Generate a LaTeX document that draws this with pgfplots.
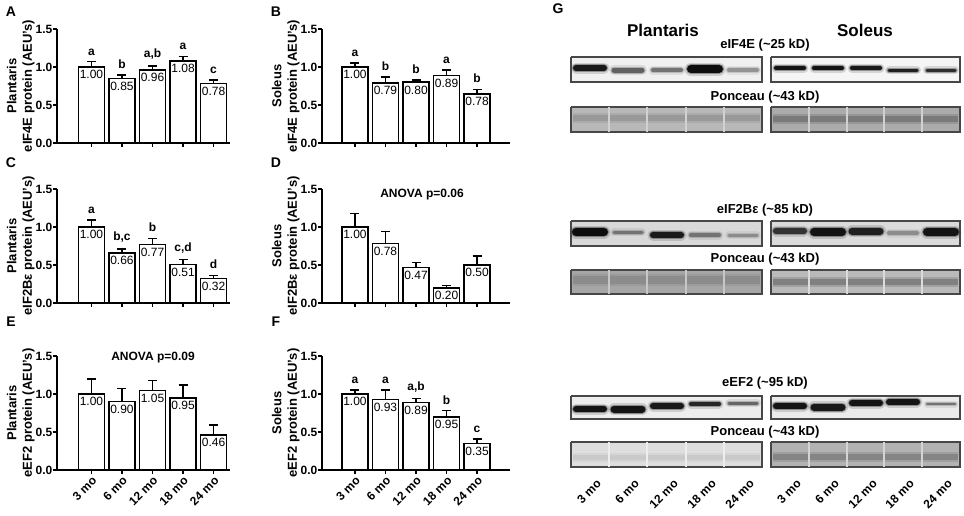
\documentclass[border=0pt]{standalone}
\usepackage{fontspec}
\setmainfont{Liberation Sans}
\usepackage{pgfplots}
\pgfplotsset{compat=1.18}
\usepackage{pgfplotstable}

\pgfplotstableread{
x y e v l
0 1.00 0.07 1.00 a
1 0.85 0.045 0.85 b
2 0.96 0.05 0.96 a,b
3 1.08 0.06 1.08 a
4 0.78 0.05 0.78 c
}\tA
\pgfplotstableread{
x y e v l
0 1.00 0.05 1.00 a
1 0.79 0.08 0.79 b
2 0.80 0.03 0.80 b
3 0.89 0.07 0.89 a
4 0.645 0.06 0.78 b
}\tB
\pgfplotstableread{
x y e v l
0 1.00 0.09 1.00 a
1 0.66 0.05 0.66 b,c
2 0.77 0.08 0.77 b
3 0.51 0.06 0.51 c,d
4 0.32 0.04 0.32 d
}\tC
\pgfplotstableread{
x y e v
0 1.00 0.18 1.00
1 0.78 0.16 0.78
2 0.47 0.06 0.47
3 0.20 0.03 0.20
4 0.50 0.12 0.50
}\tD
\pgfplotstableread{
x y e v
0 1.00 0.20 1.00
1 0.90 0.17 0.90
2 1.05 0.13 1.05
3 0.95 0.17 0.95
4 0.46 0.13 0.46
}\tE
\pgfplotstableread{
x y e v l
0 1.00 0.05 1.00 a
1 0.93 0.12 0.93 a
2 0.89 0.05 0.89 a,b
3 0.70 0.08 0.95 b
4 0.35 0.06 0.35 c
}\tF

\pgfplotsset{
  barax/.style={
    scale only axis, height=114pt, ymin=0, ymax=1.5, ytick={0,0.5,1,1.5},
    axis x line=bottom, axis y line=left, axis line style={-, line width=1.3pt},
    tick align=outside, major tick length=4pt,
    every tick/.style={black, line width=1.3pt},
    xtick={0,1,2,3,4}, xticklabels={,,,,},
    yticklabel style={font=\bfseries\fontsize{12}{14}\selectfont, inner sep=0.5pt},
    /pgf/number format/fixed, /pgf/number format/fixed zerofill,
    /pgf/number format/precision=1, /pgf/number format/assume math mode=true,
    ylabel style={font=\bfseries\fontsize{13}{15.5}\selectfont, align=center, yshift=-3pt},
    clip=false,
  },
  leftax/.style={barax, width=173pt, xmin=-1.13, xmax=4.54},
  rightax/.style={barax, width=188pt, xmin=-1.08, xmax=5.08},
  moticks/.style={xticklabels={3 mo,6 mo,12 mo,18 mo,24 mo},
    xticklabel style={rotate=45, anchor=north east, inner sep=1pt,
      font=\bfseries\fontsize{12}{14}\selectfont}},
}

\newcommand\bars[1]{%
  \addplot[ybar, bar width=26pt, bar shift=0pt, fill=white, draw=black, line width=1.4pt,
    error bars/.cd, y dir=plus, y explicit, error mark=-,
    error bar style={line width=1.5pt, black},
    error mark options={rotate=90, line width=1.5pt, mark size=4.5pt, black}]
    table[x=x, y=y, y error=e]{#1};
  \addplot[draw=none, nodes near coords, point meta=explicit symbolic,
    every node near coord/.style={anchor=north, font=\fontsize{12}{14}\selectfont, black}]
    table[x=x, y=y, meta=v]{#1};
}
\newcommand\letters[1]{%
  \addplot[draw=none, nodes near coords, point meta=explicit symbolic,
    every node near coord/.style={anchor=south, yshift=3pt, font=\bfseries\fontsize{12}{14}\selectfont, black}]
    table[x=x, y expr=\thisrow{y}+\thisrow{e}, meta=l]{#1};
}
% blot helpers (pixel coordinates of the figure)
\newcommand\bfill[5]{\addplot[fill=#5, draw=none] coordinates {(#1,#3) (#2,#3) (#2,#4) (#1,#4) (#1,#3)};}
\newcommand\bframe[4]{\addplot[draw=black!72, line width=1.3pt] coordinates {(#1,#3) (#2,#3) (#2,#4) (#1,#4) (#1,#3)};}
\newcommand\band[5]{%
  \addplot[line width={#4pt+5pt}, color=black!#5, opacity=0.15, line cap=round] coordinates {(#1,#3) (#2,#3)};
  \addplot[line width={#4pt+2pt}, color=black!#5, opacity=0.35, line cap=round] coordinates {(#1,#3) (#2,#3)};
  \addplot[line width=#4pt, color=black!#5, line cap=round] coordinates {(#1,#3) (#2,#3)};
}
\newcommand\pband[5]{%
  \addplot[line width={#4pt+4pt}, color=#5, opacity=0.4] coordinates {(#1,#3) (#2,#3)};
  \addplot[line width=#4pt, color=#5] coordinates {(#1,#3) (#2,#3)};}

\begin{document}
\begin{tikzpicture}
\path[use as bounding box] (0pt,0pt) rectangle (964pt,-516pt);

% A
\begin{axis}[leftax, at={(57pt,-143pt)}, anchor=south west,
  ylabel={Plantaris\\eIF4E protein (AEU's)}]
\bars{\tA}
\letters{\tA}
\end{axis}
% B
\begin{axis}[rightax, at={(322pt,-143pt)}, anchor=south west,
  ylabel={Soleus\\eIF4E protein (AEU's)}]
\bars{\tB}
\letters{\tB}
\end{axis}
% C
\begin{axis}[leftax, at={(57pt,-303pt)}, anchor=south west,
  ylabel={Plantaris\\eIF2Bε protein (AEU's)}]
\bars{\tC}
\letters{\tC}
\end{axis}
% D
\begin{axis}[rightax, at={(322pt,-303pt)}, anchor=south west,
  ylabel={Soleus\\eIF2Bε protein (AEU's)}]
\bars{\tD}
\end{axis}
% E
\begin{axis}[leftax, moticks, at={(57pt,-470pt)}, anchor=south west,
  ylabel={Plantaris\\eEF2 protein (AEU's)}]
\bars{\tE}
\end{axis}
% F
\begin{axis}[rightax, moticks, at={(322pt,-470pt)}, anchor=south west,
  ylabel={Soleus\\eEF2 protein (AEU's)}]
\bars{\tF}
\letters{\tF}
\end{axis}

% overlay frame in pixel coordinates: panel letters, ANOVA notes, blots (G)
\begin{axis}[at={(0pt,0pt)}, anchor=north west, scale only axis,
  width=964pt, height=516pt, xmin=0, xmax=964, ymin=0, ymax=516,
  y dir=reverse, hide axis, clip=false]
\node[font=\bfseries\fontsize{14}{16}\selectfont] at (axis cs:11,12) {A};
\node[font=\bfseries\fontsize{14}{16}\selectfont] at (axis cs:276,12) {B};
\node[font=\bfseries\fontsize{14}{16}\selectfont] at (axis cs:11,163) {C};
\node[font=\bfseries\fontsize{14}{16}\selectfont] at (axis cs:276,163) {D};
\node[font=\bfseries\fontsize{14}{16}\selectfont] at (axis cs:11,322) {E};
\node[font=\bfseries\fontsize{14}{16}\selectfont] at (axis cs:276,322) {F};
\node[font=\bfseries\fontsize{14}{16}\selectfont] at (axis cs:558,9) {G};
\node[font=\bfseries\fontsize{12}{14}\selectfont] at (axis cs:422,195) {ANOVA p=0.06};
\node[font=\bfseries\fontsize{12}{14}\selectfont] at (axis cs:153,358) {ANOVA p=0.09};

\node[font=\bfseries\fontsize{17}{20}\selectfont] at (axis cs:663,30) {Plantaris};
\node[font=\bfseries\fontsize{17}{20}\selectfont] at (axis cs:865,30) {Soleus};
\node[font=\bfseries\fontsize{13}{15}\selectfont] at (axis cs:765,45) {eIF4E (\textasciitilde 25 kD)};
\node[font=\bfseries\fontsize{13}{15}\selectfont] at (axis cs:765,97) {Ponceau (\textasciitilde 43 kD)};
\node[font=\bfseries\fontsize{13}{15}\selectfont] at (axis cs:765,210) {eIF2Bε (\textasciitilde 85 kD)};
\node[font=\bfseries\fontsize{13}{15}\selectfont] at (axis cs:765,259) {Ponceau (\textasciitilde 43 kD)};
\node[font=\bfseries\fontsize{13}{15}\selectfont] at (axis cs:765,383) {eEF2 (\textasciitilde 95 kD)};
\node[font=\bfseries\fontsize{13}{15}\selectfont] at (axis cs:765,432) {Ponceau (\textasciitilde 43 kD)};

% eIF4E
\bfill{571}{762}{57}{82}{black!6}
\bfill{771}{960}{57}{82}{black!4}
\band{576}{604}{68}{6}{90}
\band{614}{642}{70}{5}{62}
\band{653}{681}{70}{4}{55}
\band{691}{719}{69}{8}{95}
\band{729}{757}{70}{4}{42}
\band{776}{804}{68}{4}{92}
\band{814}{842}{68}{4}{92}
\band{852}{880}{68}{4}{90}
\band{889}{917}{70}{3}{88}
\band{927}{955}{70}{3}{82}
\bframe{571}{762}{57}{82}
\bframe{771}{960}{57}{82}
% Ponceau 1
\bfill{571}{762}{107}{132}{black!28}
\bfill{771}{960}{107}{132}{black!33}
\pband{573}{760}{118}{6}{black!40}
\pband{773}{958}{119}{6}{black!52}
\addplot[only marks, mark=|, mark size=12.5pt, line width=2pt, color=black!18] coordinates {(609,119.5) (647,119.5) (686,119.5) (724,119.5) (809,119.5) (847,119.5) (884,119.5) (922,119.5)};
\bframe{571}{762}{107}{132}
\bframe{771}{960}{107}{132}
% eIF2Be
\bfill{571}{762}{221}{246}{black!15}
\bfill{771}{960}{221}{246}{black!14}
\band{576}{604}{232}{8}{95}
\band{614}{642}{232}{3}{55}
\band{653}{681}{235}{6}{90}
\band{691}{719}{235}{4}{55}
\band{729}{757}{235}{3}{45}
\band{776}{804}{231}{6}{80}
\band{814}{842}{232}{8}{92}
\band{852}{880}{231}{7}{88}
\band{889}{917}{233}{4}{45}
\band{927}{955}{232}{8}{92}
\bframe{571}{762}{221}{246}
\bframe{771}{960}{221}{246}
% Ponceau 2
\bfill{571}{762}{270}{294}{black!35}
\bfill{771}{960}{270}{294}{black!27}
\pband{573}{760}{280}{8}{black!45}
\pband{773}{958}{282}{6}{black!50}
\addplot[only marks, mark=|, mark size=12pt, line width=2pt, color=black!22] coordinates {(609,282) (647,282) (686,282) (724,282)};
\addplot[only marks, mark=|, mark size=12pt, line width=2pt, color=black!14] coordinates {(809,282) (847,282) (884,282) (922,282)};
\bframe{571}{762}{270}{294}
\bframe{771}{960}{270}{294}
% eEF2
\bfill{571}{762}{396}{419}{black!7}
\bfill{771}{960}{396}{419}{black!8}
\band{576}{604}{409}{6}{92}
\band{614}{642}{409}{7}{92}
\band{653}{681}{406}{6}{90}
\band{691}{719}{404}{4}{85}
\band{729}{757}{403}{3}{60}
\band{776}{804}{406}{6}{92}
\band{814}{842}{407}{7}{90}
\band{852}{880}{403}{6}{92}
\band{889}{917}{402}{6}{92}
\band{927}{955}{404}{2}{55}
\bframe{571}{762}{396}{419}
\bframe{771}{960}{396}{419}
% Ponceau 3
\bfill{571}{762}{442}{467}{black!13}
\bfill{771}{960}{442}{467}{black!30}
\pband{573}{760}{457}{5}{black!21}
\pband{773}{958}{457}{6}{black!48}
\addplot[only marks, mark=|, mark size=12.5pt, line width=2pt, color=black!7] coordinates {(609,454.5) (647,454.5) (686,454.5) (724,454.5)};
\addplot[only marks, mark=|, mark size=12.5pt, line width=2pt, color=black!17] coordinates {(809,454.5) (847,454.5) (884,454.5) (922,454.5)};
\bframe{571}{762}{442}{467}
\bframe{771}{960}{442}{467}

% lane labels
\foreach \cx/\lab in {596/3 mo,634/6 mo,673/12 mo,711/18 mo,749/24 mo,796/3 mo,834/6 mo,872/12 mo,909/18 mo,947/24 mo}{
  \edef\tmp{\noexpand\node[rotate=45, anchor=north east, inner sep=1pt, font=\noexpand\bfseries\noexpand\fontsize{12}{14}\noexpand\selectfont] at (axis cs:\cx,477) {\lab};}\tmp
}
\end{axis}
\end{tikzpicture}
\end{document}
